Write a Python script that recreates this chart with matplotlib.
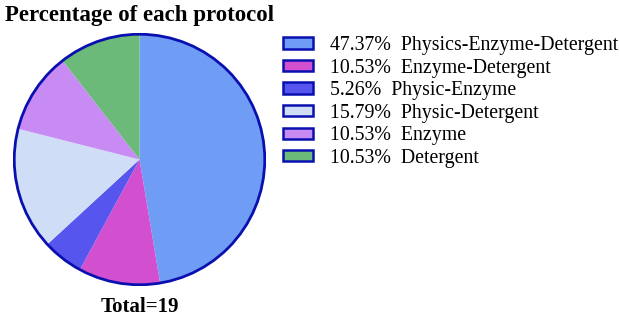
import matplotlib
matplotlib.use("Agg")
import matplotlib.pyplot as plt
from matplotlib.patches import Circle, Patch

labels = ["Physics-Enzyme-Detergent", "Enzyme-Detergent", "Physic-Enzyme",
          "Physic-Detergent", "Enzyme", "Detergent"]
counts = [9, 2, 1, 3, 2, 2]
colors = ["#6f9cf5", "#d24fd0", "#5656ee", "#cfddf7", "#c78bf3", "#6bba7a"]
edge = "#0a10b0"

total = sum(counts)

plt.rcParams["font.family"] = ["Liberation Serif", "DejaVu Serif"]

W, H = 620, 319
fig = plt.figure(figsize=(W / 100, H / 100), dpi=100)

# pie axes: center ~ (139, 159) px, radius ~126 px
cx, cy, r = 139.5, 159.5, 126.5
ax = fig.add_axes([(cx - r) / W, (H - cy - r) / H, 2 * r / W, 2 * r / H])
ax.pie(counts, colors=colors, startangle=90, counterclock=False,
       wedgeprops=dict(linewidth=0), radius=1.0)
ax.add_patch(Circle((0, 0), 1.0, fill=False, edgecolor=edge, linewidth=2.0))
ax.set_xlim(-1.01, 1.01)
ax.set_ylim(-1.01, 1.01)
ax.set_aspect("equal")
ax.axis("off")

fig.text(5 / W, 1 - 15 / H, "Percentage of each protocol", fontsize=16.5,
         fontweight="bold", ha="left", va="center")
fig.text(cx / W, 1 - 307 / H, f"Total={total}", fontsize=15,
         fontweight="bold", ha="center", va="center")

handles = [Patch(facecolor=c, edgecolor=edge, linewidth=1.8) for c in colors]
leg_labels = [f"{100 * n / total:.2f}%  {lab}" for n, lab in zip(counts, labels)]
fig.legend(handles, leg_labels, loc="upper left",
           bbox_to_anchor=(283 / W, 1 - 36 / H), frameon=False,
           fontsize=14.3, handlelength=1.5, handleheight=0.5,
           handletextpad=0.85, labelspacing=0.18, borderaxespad=0,
           borderpad=0)

fig.savefig("out.png", dpi=100)
